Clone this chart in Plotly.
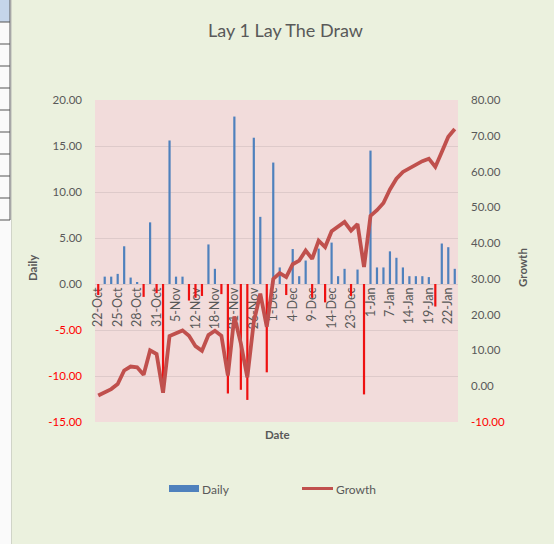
import plotly.graph_objects as go

# ---------------- data ----------------
dates = ["22-Oct", "23-Oct", "24-Oct", "25-Oct", "26-Oct", "27-Oct", "28-Oct", "29-Oct",
         "30-Oct", "31-Oct", "1-Nov", "3-Nov", "5-Nov", "7-Nov", "10-Nov", "12-Nov",
         "14-Nov", "16-Nov", "18-Nov", "19-Nov", "20-Nov", "21-Nov", "23-Nov", "24-Nov",
         "26-Nov", "28-Nov", "30-Nov", "1-Dec", "2-Dec", "3-Dec", "4-Dec", "6-Dec",
         "8-Dec", "9-Dec", "11-Dec", "13-Dec", "14-Dec", "17-Dec", "20-Dec", "23-Dec",
         "27-Dec", "29-Dec", "1-Jan", "3-Jan", "5-Jan", "7-Jan", "9-Jan", "11-Jan",
         "14-Jan", "16-Jan", "18-Jan", "19-Jan", "20-Jan", "21-Jan", "22-Jan", "23-Jan"]

daily = [-1.2, 0.8, 0.8, 1.1, 4.1, 0.7, 0.2, -1.4,
         6.7, -1.0, -11.8, 15.6, 0.8, 0.8, -1.8, -1.5,
         -1.3, 4.3, 1.65, -1.1, -11.9, 18.2, -11.5, -12.6,
         15.9, 7.3, -9.6, 13.2, 1.8, -1.2, 3.8, 0.85,
         2.55, -1.5, 3.85, -2.0, 4.5, 0.85, 1.65, -1.3,
         1.57, -12.0, 14.5, 1.8, 1.8, 3.55, 2.85, 1.8,
         0.85, 0.85, 0.85, 0.75, -2.45, 4.4, 4.0, 1.65]

growth = [-2.6, -1.8, -0.8, 0.6, 4.4, 5.5, 5.3, 3.2,
          10.0, 9.0, -1.8, 14.0, 14.7, 15.6, 14.1, 11.2,
          9.9, 14.3, 15.5, 14.1, 3.0, 19.5, 12.0, 2.5,
          18.0, 25.9, 16.6, 30.0, 31.6, 30.5, 34.1, 35.1,
          37.9, 35.6, 40.7, 38.9, 43.3, 44.5, 45.9, 43.5,
          45.3, 33.3, 47.6, 49.2, 51.2, 55.0, 58.0, 59.9,
          61.0, 62.0, 62.9, 63.6, 61.3, 65.5, 69.7, 71.9]

left_ticks = [-15, -10, -5, 0, 5, 10, 15, 20]
right_ticks = [-10, 0, 10, 20, 30, 40, 50, 60, 70, 80]
xtick_labels = dates[::3]

# ---------------- styling ----------------
W, H = 554, 544
PL, PR, PT, PB = 95, 458, 100, 422   # plot area in pixels
GRAY = "#595959"
RED_TXT = "#FF0000"
BLUE = "#4F81BD"
NEG_RED = "#EE1111"
LINE_RED = "#C0504D"
FONT = "Lato"


def px_x(p):
    return (p - PL) / (PR - PL)


def px_y(p):
    return (PB - p) / (PB - PT)


def fmt(v):
    s = f"{v:.2f}"
    return f'<span style="color:{RED_TXT}">{s}</span>' if v < 0 else s


bar_colors = [BLUE if v >= 0 else NEG_RED for v in daily]

fig = go.Figure()
fig.add_trace(go.Bar(x=dates, y=daily, marker=dict(color=bar_colors, line=dict(width=0)),
                     width=0.34, name="Daily", yaxis="y"))
fig.add_trace(go.Scatter(x=dates, y=growth, mode="lines", name="Growth",
                         line=dict(color=LINE_RED, width=3.8), yaxis="y2"))

fig.update_layout(
    width=W, height=H,
    margin=dict(l=PL, r=W - PR, t=PT, b=H - PB, pad=0),
    paper_bgcolor="#EBF1DE",
    plot_bgcolor="#F2DCDB",
    showlegend=False,
    font=dict(family=FONT, color=GRAY, size=12),
    xaxis=dict(type="category", categoryorder="array", categoryarray=dates,
               range=[-0.5, len(dates) - 0.5],
               tickmode="array", tickvals=xtick_labels, ticktext=xtick_labels,
               tickangle=-90, anchor="free", position=15 / 35,
               showgrid=False, showline=False, zeroline=False, ticks="",
               tickfont=dict(size=12.5, color=GRAY, family=FONT),
               layer="below traces", fixedrange=True),
    yaxis=dict(range=[-15, 20], tickmode="array", tickvals=left_ticks,
               ticktext=[fmt(v) for v in left_ticks],
               showgrid=True, gridcolor="#DECACA", gridwidth=1,
               zeroline=False, showline=False, ticks="",
               ticklabelstandoff=12,
               tickfont=dict(size=11.5, color=GRAY, family=FONT)),
    yaxis2=dict(range=[-10, 80], overlaying="y", side="right", tickmode="array",
                tickvals=right_ticks, ticktext=[fmt(v) for v in right_ticks],
                showgrid=False, zeroline=False, showline=False, ticks="",
                ticklabelstandoff=12,
                tickfont=dict(size=11.5, color=GRAY, family=FONT)),
)

shapes = []
annotations = []

# spreadsheet strip at left edge
shapes.append(dict(type="rect", xref="paper", yref="paper", x0=px_x(0), x1=px_x(11),
                   y0=px_y(544), y1=px_y(0), fillcolor="#FAFAFA", line=dict(width=0), layer="below"))
shapes.append(dict(type="rect", xref="paper", yref="paper", x0=px_x(0), x1=px_x(10),
                   y0=px_y(22), y1=px_y(0), fillcolor="#C5D5EA", line=dict(width=0), layer="below"))
for k in range(10):
    yy = 22 * (k + 1)
    shapes.append(dict(type="line", xref="paper", yref="paper", x0=px_x(0), x1=px_x(10),
                       y0=px_y(yy), y1=px_y(yy), line=dict(color="#555555", width=1)))
shapes.append(dict(type="line", xref="paper", yref="paper", x0=px_x(10), x1=px_x(10),
                   y0=px_y(220), y1=px_y(0), line=dict(color="#555555", width=1)))
shapes.append(dict(type="line", xref="paper", yref="paper", x0=px_x(11.5), x1=px_x(11.5),
                   y0=px_y(544), y1=px_y(0), line=dict(color="#D0D4C8", width=1)))

# title
annotations.append(dict(text="Lay 1 Lay The Draw", xref="paper", yref="paper",
                        x=px_x(285), y=px_y(30), showarrow=False,
                        font=dict(size=18, color=GRAY, family=FONT),
                        xanchor="center", yanchor="middle"))
# axis titles
annotations.append(dict(text="<b>Daily</b>", xref="paper", yref="paper", x=px_x(32), y=px_y(268),
                        showarrow=False, textangle=-90, font=dict(size=11.5, color=GRAY, family=FONT),
                        xanchor="center", yanchor="middle"))
annotations.append(dict(text="<b>Growth</b>", xref="paper", yref="paper", x=px_x(522), y=px_y(268),
                        showarrow=False, textangle=-90, font=dict(size=11.5, color=GRAY, family=FONT),
                        xanchor="center", yanchor="middle"))
annotations.append(dict(text="<b>Date</b>", xref="paper", yref="paper", x=px_x(277), y=px_y(434),
                        showarrow=False, font=dict(size=11.5, color=GRAY, family=FONT),
                        xanchor="center", yanchor="middle"))

# legend (manual)
shapes.append(dict(type="rect", xref="paper", yref="paper", x0=px_x(169), x1=px_x(199),
                   y0=px_y(492), y1=px_y(485), fillcolor=BLUE, line=dict(width=0)))
annotations.append(dict(text="Daily", xref="paper", yref="paper", x=px_x(200), y=px_y(489),
                        showarrow=False, font=dict(size=12, color=GRAY, family=FONT),
                        xanchor="left", yanchor="middle"))
shapes.append(dict(type="line", xref="paper", yref="paper", x0=px_x(302), x1=px_x(333),
                   y0=px_y(488.5), y1=px_y(488.5), line=dict(color=LINE_RED, width=3)))
annotations.append(dict(text="Growth", xref="paper", yref="paper", x=px_x(334), y=px_y(489),
                        showarrow=False, font=dict(size=12, color=GRAY, family=FONT),
                        xanchor="left", yanchor="middle"))

fig.update_layout(shapes=shapes, annotations=annotations)
fig.write_html("out.html", config={"displayModeBar": False},
               post_script="document.body.style.margin='0';document.body.style.overflow='hidden';")
